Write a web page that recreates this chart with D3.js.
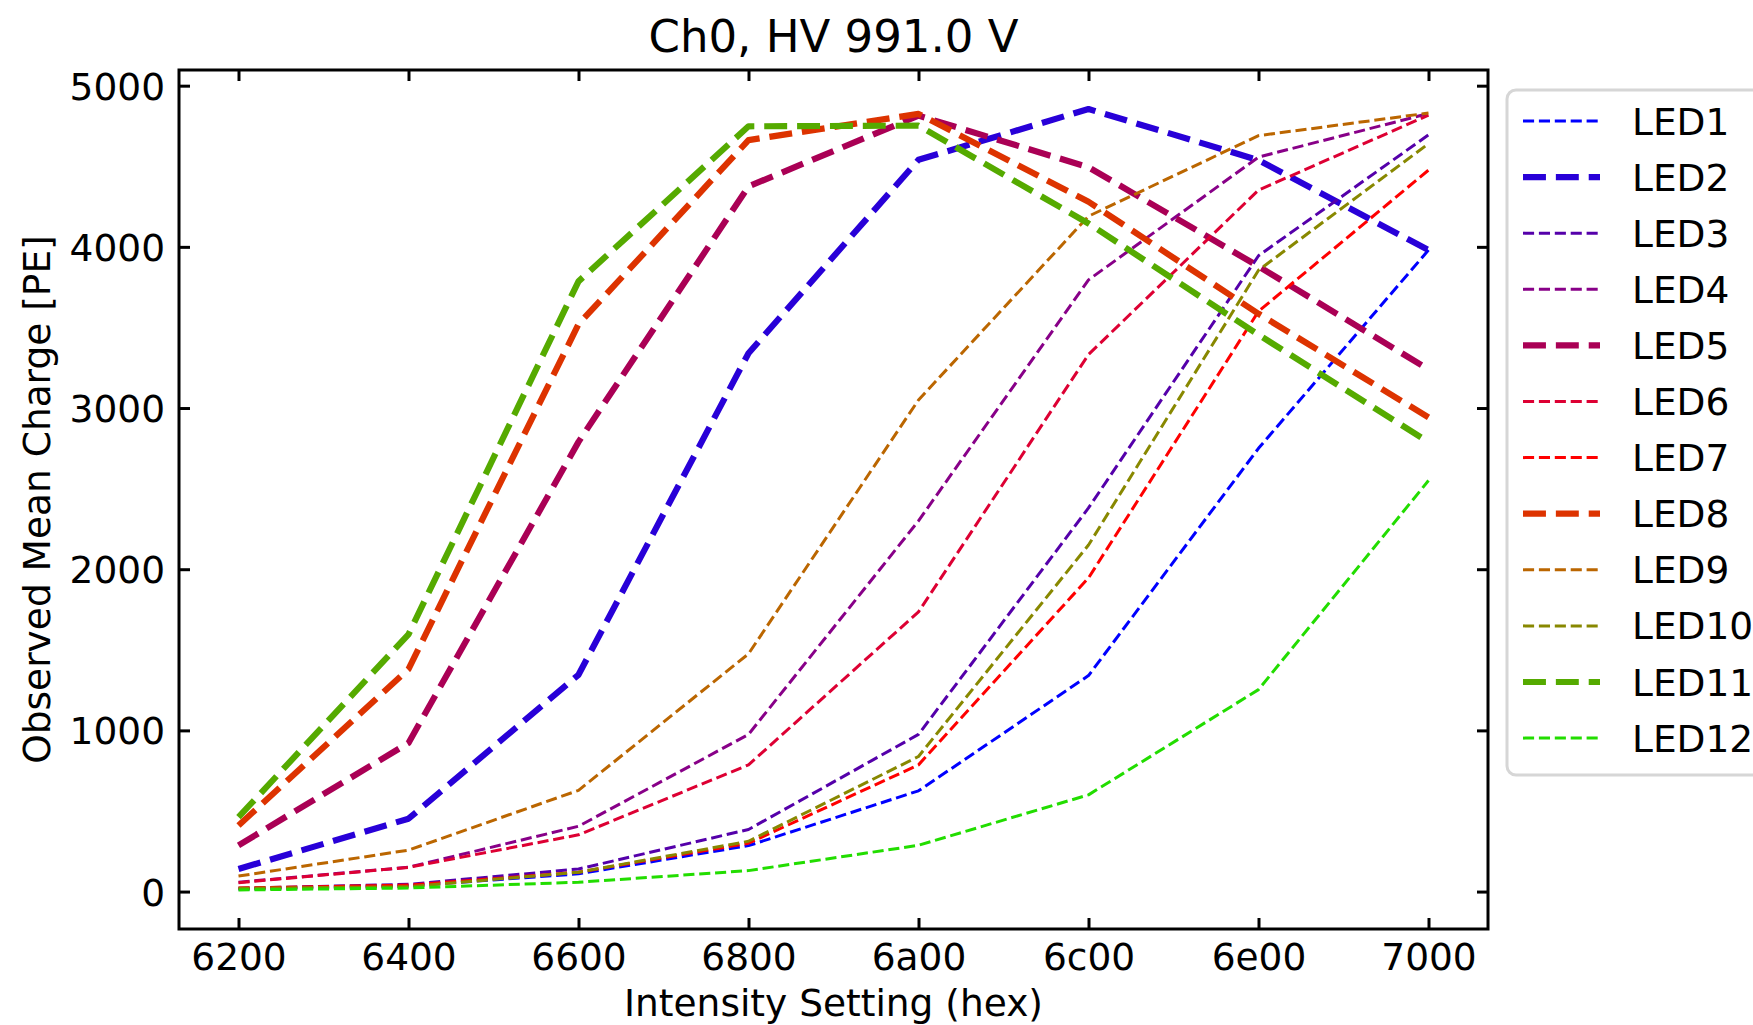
<!DOCTYPE html>
<html>
  <head>
    <meta charset="utf-8">
    <title>Ch0, HV 991.0 V</title>
    <script src="https://d3js.org/d3.v7.min.js"></script>
    <style type="text/css">
      body { margin: 0; background: #fff; }
      text { font-family: "DejaVu Sans", sans-serif; fill: #000; }
    </style>
  </head>
  <body>
    <div id="chart"></div>
    <script type="text/javascript">
      // intensity settings (hex) on the x axis
      var settings = ["6200", "6400", "6600", "6800", "6a00", "6c00", "6e00", "7000"];
      var yTicks = [0, 1000, 2000, 3000, 4000, 5000];

      // observed mean charge per LED
      var led1  = [15, 35, 110, 285, 625, 1340, 2750, 3980];
      var led2  = [140, 452, 1345, 3340, 4540, 4855, 4538, 3980];
      var led3  = [20, 45, 140, 385, 975, 2380, 3945, 4695];
      var led4  = [58, 151, 405, 975, 2300, 3795, 4557, 4827];
      var led5  = [287, 922, 2790, 4375, 4814, 4494, 3879, 3240];
      var led6  = [55, 150, 352, 786, 1735, 3332, 4352, 4817];
      var led7  = [22, 40, 120, 300, 786, 1946, 3600, 4476];
      var led8  = [410, 1380, 3520, 4662, 4825, 4280, 3585, 2942];
      var led9  = [96, 257, 628, 1475, 3050, 4190, 4690, 4830];
      var led10 = [20, 30, 120, 312, 838, 2150, 3855, 4640];
      var led11 = [462, 1596, 3786, 4748, 4752, 4145, 3455, 2788];
      var led12 = [10, 22, 58, 130, 287, 600, 1253, 2550];

      var names  = ["LED1", "LED2", "LED3", "LED4", "LED5", "LED6",
                    "LED7", "LED8", "LED9", "LED10", "LED11", "LED12"];
      var series = [led1, led2, led3, led4, led5, led6,
                    led7, led8, led9, led10, led11, led12];
      var colors = ["#0000ff", "#2800d8", "#5500aa", "#880088", "#aa0055", "#dd0033",
                    "#ff0000", "#dd3300", "#bb6600", "#888800", "#55aa00", "#22dd00"];

      var width = 1753, height = 1025;
      var margin = {top: 70, right: 265, bottom: 96, left: 179};
      var plotRight = width - margin.right;
      var plotBottom = height - margin.bottom;

      // every third LED (2, 5, 8, 11) is drawn thick
      function isThick(i) { return i % 3 === 1; }
      function lineWidth(i) { return isThick(i) ? 6.2 : 3; }
      function dashes(i) { var w = lineWidth(i); return (3.7 * w) + "," + (1.6 * w); }

      var svg = d3.select("#chart")
          .append("svg")
          .attr("width", width)
          .attr("height", height)
          .style("background", "#fff");

      var xScale = d3.scalePoint()
          .domain(settings)
          .range([margin.left, plotRight])
          .padding(0.35);

      // matplotlib style autoscale: 5% margin round the data
      var all = [].concat.apply([], series);
      var yMin = d3.min(all), yMax = d3.max(all);
      var pad = (yMax - yMin) * 0.05;
      var yScale = d3.scaleLinear()
          .domain([yMin - pad, yMax + pad])
          .range([plotBottom, margin.top]);

      var line = d3.line()
          .x(function(d, i) { return xScale(settings[i]); })
          .y(function(d) { return yScale(d); });

      // the LED curves
      svg.append("g")
          .selectAll("path")
          .data(series)
          .enter()
          .append("path")
          .attr("d", line)
          .attr("fill", "none")
          .attr("stroke", function(d, i) { return colors[i]; })
          .attr("stroke-width", function(d, i) { return lineWidth(i); })
          .attr("stroke-dasharray", function(d, i) { return dashes(i); })
          .attr("stroke-linejoin", "round");

      // axes, ticks pointing inwards on all four sides
      var tickLen = 11;
      var xAxis = d3.axisBottom(xScale).tickSizeInner(-tickLen).tickSizeOuter(0).tickPadding(14);
      var xTop = d3.axisTop(xScale).tickSizeInner(-tickLen).tickSizeOuter(0).tickFormat("");
      var yAxis = d3.axisLeft(yScale).tickValues(yTicks).tickFormat(d3.format("d"))
          .tickSizeInner(-tickLen).tickSizeOuter(0).tickPadding(14);
      var yRight = d3.axisRight(yScale).tickValues(yTicks).tickSizeInner(-tickLen).tickSizeOuter(0).tickFormat("");

      var gx = svg.append("g").attr("transform", "translate(0," + plotBottom + ")").call(xAxis);
      var gxt = svg.append("g").attr("transform", "translate(0," + margin.top + ")").call(xTop);
      var gy = svg.append("g").attr("transform", "translate(" + margin.left + ",0)").call(yAxis);
      var gyr = svg.append("g").attr("transform", "translate(" + plotRight + ",0)").call(yRight);

      [gx, gxt, gy, gyr].forEach(function(g) {
        g.select(".domain").remove();
        g.selectAll(".tick line").attr("stroke", "#000").attr("stroke-width", 3);
        g.selectAll(".tick text").style("font-size", "37.5px").attr("fill", "#000");
      });
      gx.selectAll(".tick text").attr("dy", "0.71em");
      gy.selectAll(".tick text").attr("dy", "0.36em");

      // frame
      svg.append("rect")
          .attr("x", margin.left)
          .attr("y", margin.top)
          .attr("width", plotRight - margin.left)
          .attr("height", plotBottom - margin.top)
          .attr("fill", "none")
          .attr("stroke", "#000")
          .attr("stroke-width", 3);

      // title and axis names
      svg.append("text")
          .attr("x", (margin.left + plotRight) / 2)
          .attr("y", 51.5)
          .style("text-anchor", "middle")
          .style("font-size", "45px")
          .text("Ch0, HV 991.0 V");

      svg.append("text")
          .attr("x", (margin.left + plotRight) / 2)
          .attr("y", 1016)
          .style("text-anchor", "middle")
          .style("font-size", "37.5px")
          .text("Intensity Setting (hex)");

      svg.append("text")
          .attr("transform", "translate(50," + ((margin.top + plotBottom) / 2) + ") rotate(-90)")
          .style("text-anchor", "middle")
          .style("font-size", "37.5px")
          .text("Observed Mean Charge [PE]");

      // legend, runs off the right edge like the original
      var legend = svg.append("g").attr("transform", "translate(1507,90)");
      legend.append("rect")
          .attr("width", 290)
          .attr("height", 685)
          .attr("rx", 9)
          .attr("fill", "#fff")
          .attr("stroke", "#d6d6d6")
          .attr("stroke-width", 3);

      var rowH = 56.1;
      var rows = legend.selectAll(".row")
          .data(names)
          .enter()
          .append("g")
          .attr("class", "row")
          .attr("transform", function(d, i) { return "translate(0," + (31 + i * rowH) + ")"; });
      rows.append("line")
          .attr("x1", 16)
          .attr("x2", 93)
          .attr("stroke", function(d, i) { return colors[i]; })
          .attr("stroke-width", function(d, i) { return lineWidth(i); })
          .attr("stroke-dasharray", function(d, i) { return dashes(i); });
      rows.append("text")
          .attr("x", 125)
          .attr("dy", "0.36em")
          .style("font-size", "37.5px")
          .text(function(d) { return d; });
    </script>
  </body>
</html>
